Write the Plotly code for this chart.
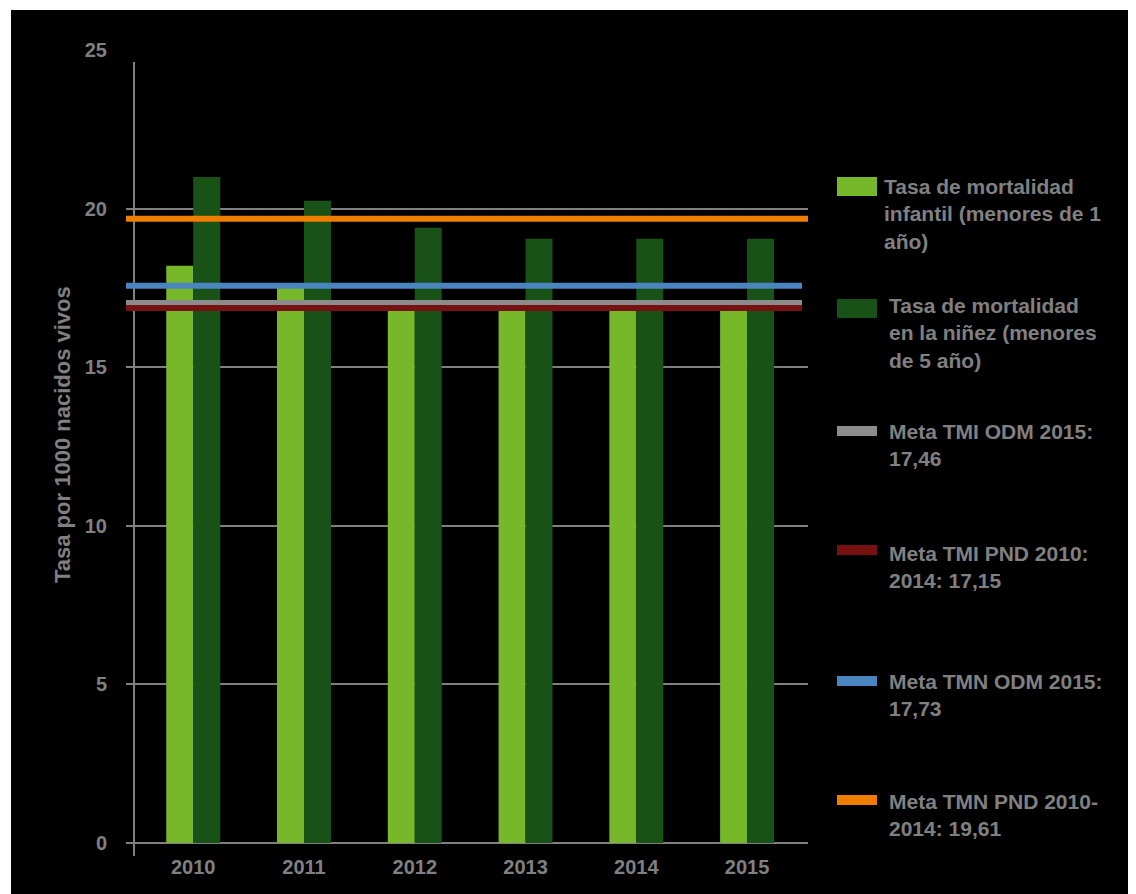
import plotly.graph_objects as go

# ---- data ----
years = ["2010", "2011", "2012", "2013", "2014", "2015"]
x_pos = [0, 1, 2, 3, 4, 5]
tmi = [18.2, 17.6, 17.0, 17.0, 17.0, 17.0]          # Tasa de mortalidad infantil
tmn = [21.0, 20.25, 19.4, 19.05, 19.05, 19.05]       # Tasa de mortalidad en la niñez
series_names = ["Tasa de mortalidad<br>infantil (menores de 1<br>año)",
                "Tasa de mortalidad<br>en la niñez (menores<br>de 5 año)"]
target_names = ["Meta TMI ODM 2015:<br>17,46",
                "Meta TMI PND 2010:<br>2014: 17,15",
                "Meta TMN ODM 2015:<br>17,73",
                "Meta TMN PND 2010-<br>2014: 19,61"]
target_values = [17.04, 16.87, 17.57, 19.68]   # as drawn in the picture
y_ticks = [0, 5, 10, 15, 20, 25]

# ---- styles ----
C_LIGHT = "#77b82b"
C_DARK = "#195216"
C_TARGETS = ["#8c8c8c", "#771010", "#4a85c0", "#ef7d00"]
TXT = "#808080"
FONT = "Liberation Sans, Arial, sans-serif"

OFF = 8  # default page body margin
W, H = 1136 - OFF, 894 - OFF
ML, MT = 126 - OFF, 50 - OFF
MR = W - (808 - OFF)
MB = H - (843 - OFF)
PW, PH = W - ML - MR, H - MT - MB

def px_x(p):
    return (p - OFF - ML) / PW

def px_y(p):
    return (H - MB - (p - OFF)) / PH

fig = go.Figure()
fig.add_trace(go.Bar(x=x_pos, y=tmi, name=series_names[0], marker_color=C_LIGHT,
                     marker_line_width=0))
fig.add_trace(go.Bar(x=x_pos, y=tmn, name=series_names[1], marker_color=C_DARK,
                     marker_line_width=0))

shapes = []
# black background panel
shapes.append(dict(type="rect", xref="paper", yref="paper", layer="below",
                   x0=px_x(11), x1=px_x(1140), y0=px_y(900), y1=px_y(10),
                   fillcolor="black", line_width=0))
# y axis line
shapes.append(dict(type="line", xref="paper", yref="paper", layer="above",
                   x0=px_x(134), x1=px_x(134), y0=px_y(62), y1=px_y(856),
                   line=dict(color="#808080", width=2)))
# target lines
line_widths = [5, 6, 6, 6]
line_ends = [px_x(802), px_x(802), px_x(802), 1.0]
for v, c, w, xe in zip(target_values, C_TARGETS, line_widths, line_ends):
    shapes.append(dict(type="line", xref="paper", yref="y", layer="above",
                       x0=0, x1=xe, y0=v, y1=v, line=dict(color=c, width=w)))

# legend swatches (pixel boxes)
sw = [(177, 196, C_LIGHT), (299, 318, C_DARK), (426, 436, C_TARGETS[0]),
      (545, 555, C_TARGETS[1]), (676, 686, C_TARGETS[2]), (795, 805, C_TARGETS[3])]
for y0, y1, c in sw:
    shapes.append(dict(type="rect", xref="paper", yref="paper",
                       x0=px_x(837), x1=px_x(877), y0=px_y(y1), y1=px_y(y0),
                       fillcolor=c, line_width=0))

annotations = []
leg_labels = series_names + target_names
leg_centers = [214, 333, 445, 567, 695, 815]
leg_x = [884, 889, 889, 889, 889, 889]
for lab, yc, xx in zip(leg_labels, leg_centers, leg_x):
    annotations.append(dict(text=lab, xref="paper", yref="paper",
                            x=px_x(xx - 2), y=px_y(yc), xanchor="left", yanchor="middle",
                            align="left", showarrow=False,
                            font=dict(family=FONT, size=21, color=TXT, weight="bold")))

# y axis title
annotations.append(dict(text="Tasa por 1000 nacidos vivos", xref="paper", yref="paper",
                        x=px_x(62), y=px_y(435), textangle=-90, showarrow=False,
                        xanchor="center", yanchor="middle",
                        font=dict(family=FONT, size=22, color=TXT, weight="bold")))

fig.update_layout(
    width=W, height=H,
    margin=dict(l=ML, r=MR, t=MT, b=MB),
    paper_bgcolor="white", plot_bgcolor="black",
    barmode="group", bargap=0.513, bargroupgap=0,
    showlegend=False,
    shapes=shapes, annotations=annotations,
    xaxis=dict(range=[-0.607, 5.55], tickvals=x_pos, ticktext=years,
               showgrid=False, zeroline=False, showline=False, ticks="",
               tickfont=dict(family=FONT, size=20, color=TXT, weight="bold"),
               ticklabelstandoff=10),
    yaxis=dict(range=[0, 25], tickvals=y_ticks, showgrid=True, gridcolor="#808080",
               gridwidth=2, zeroline=True, zerolinecolor="#808080", zerolinewidth=2,
               showline=False, ticks="",
               tickfont=dict(family=FONT, size=20, color=TXT, weight="bold"),
               ticklabelstandoff=18),
)

fig.write_html("out.html")
